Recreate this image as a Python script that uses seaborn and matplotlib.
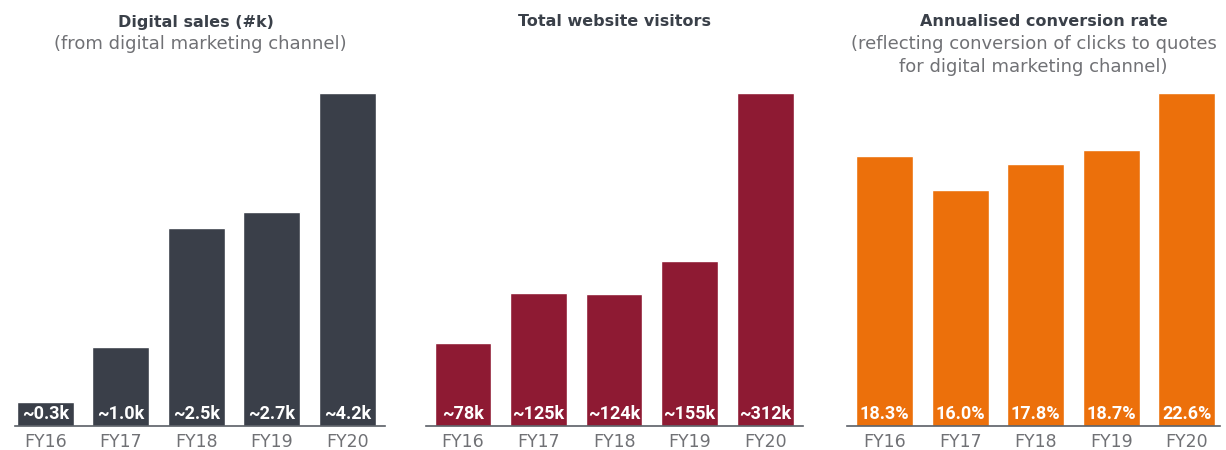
import matplotlib
matplotlib.use("Agg")
import matplotlib.pyplot as plt
import seaborn as sns
import pandas as pd

years = ["FY16", "FY17", "FY18", "FY19", "FY20"]
digital_sales_k = [0.3, 1.0, 2.5, 2.7, 4.2]
website_visitors_k = [78, 125, 124, 155, 312]
conversion_rate_pct = [18.3, 16.0, 17.8, 18.7, 22.6]

sns.set_theme(style="white")
plt.rcParams["font.family"] = ["DejaVu Sans"]

W, H = 1226, 450
fig = plt.figure(figsize=(W / 100, H / 100), dpi=100)

panels = [
    dict(values=digital_sales_k, fmt=lambda v: f"~{v:.1f}k", color="#3a3f49",
         left=15, right=385, xlim=(-0.4, 4.5), title_x=196,
         title="Digital sales (#k)",
         subtitle=["(from digital marketing channel)"]),
    dict(values=website_visitors_k, fmt=lambda v: f"~{v:.0f}k", color="#8e1a33",
         left=426, right=803, xlim=(-0.49, 4.5), title_x=615,
         title="Total website visitors", subtitle=[]),
    dict(values=conversion_rate_pct, fmt=lambda v: f"{v:.1f}%", color="#ec700b",
         left=847, right=1220, xlim=(-0.5, 4.44), title_x=1044,
         title="Annualised conversion rate",
         subtitle=["(reflecting conversion of clicks to quotes",
                   "for digital marketing channel)"]),
]

bottom_px, top_px = 426, 93
title_color = "#3a4049"
sub_color = "#707175"

for p in panels:
    ax = fig.add_axes([p["left"] / W, (H - bottom_px) / H,
                       (p["right"] - p["left"]) / W, (bottom_px - top_px) / H])
    df = pd.DataFrame({"year": years, "value": p["values"]})
    sns.barplot(data=df, x="year", y="value", color=p["color"], width=0.75,
                saturation=1, ax=ax)
    ax.set_xlim(*p["xlim"])
    ax.set_ylim(0, max(p["values"]))
    for i, v in enumerate(p["values"]):
        ax.annotate(p["fmt"](v), xy=(i, 0), xytext=(0, 2), textcoords="offset points",
                    ha="center", va="bottom", color="white", fontsize=13,
                    fontweight="bold", family=["Roboto", "DejaVu Sans"])
    for s in ["top", "right", "left"]:
        ax.spines[s].set_visible(False)
    ax.spines["bottom"].set_color("#5a5f66")
    ax.spines["bottom"].set_linewidth(1.2)
    ax.set_yticks([])
    ax.set_xlabel("")
    ax.set_ylabel("")
    ax.tick_params(axis="x", length=0, pad=5, labelsize=12.5, labelcolor="#707175")

    fig.text(p["title_x"] / W, 1 - 22 / H, p["title"], ha="center", va="center",
             fontsize=11.5, fontweight="bold", color=title_color)
    cx = (p["left"] + p["right"]) / 2 / W
    for k, line in enumerate(p["subtitle"]):
        fig.text(cx, 1 - (44 + 23 * k) / H, line, ha="center", va="center",
                 fontsize=13, color=sub_color)

fig.savefig("out.png", dpi=100)
